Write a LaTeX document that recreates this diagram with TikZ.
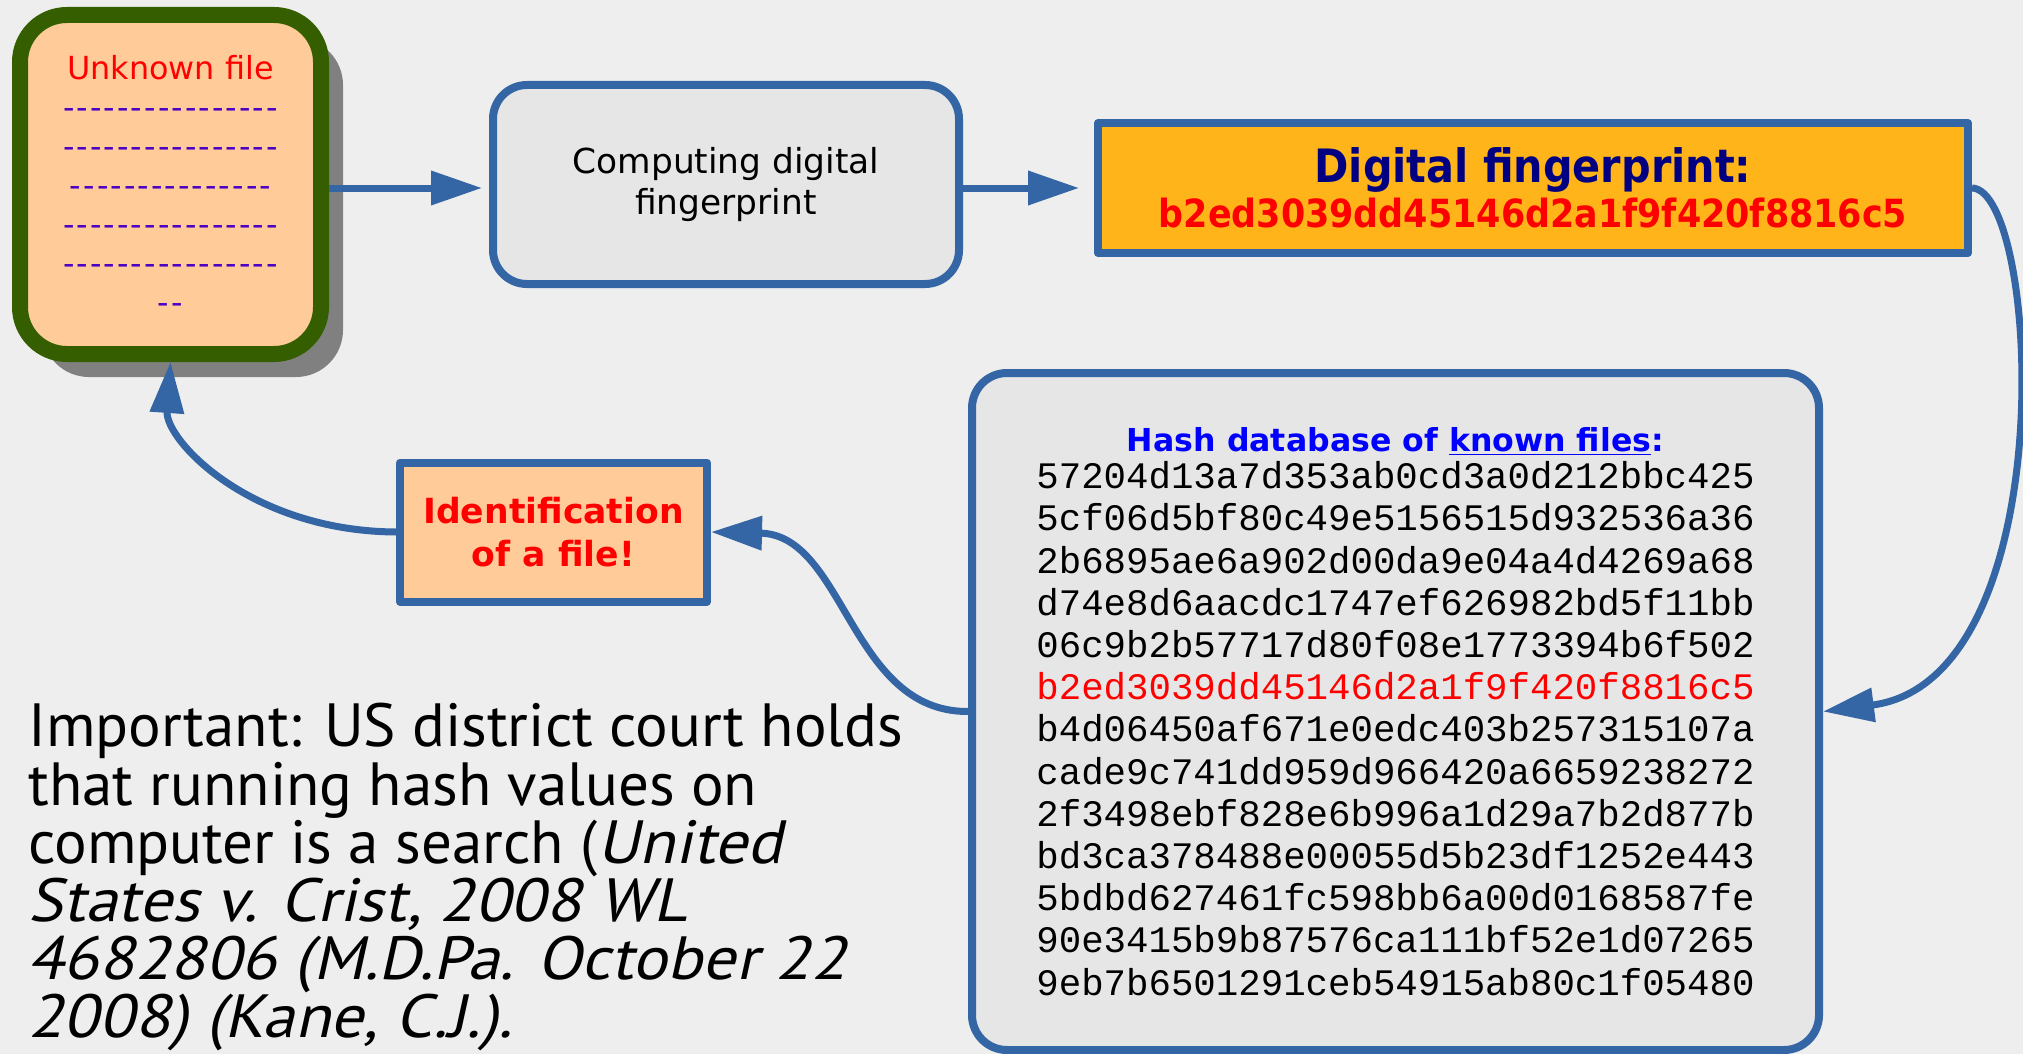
\documentclass[tikz,border=0pt]{standalone}
\usepackage{fontspec}
\setmainfont{DejaVu Sans}
\setmonofont{Liberation Mono}
\newfontfamily\condfont{DejaVu Sans Condensed}
\newfontfamily\dashfont[Ligatures=TeXOff,LetterSpace=6.5]{DejaVu Sans}
\newfontfamily\notefont{PT Sans}[ItalicFont={PT Sans}, ItalicFeatures={FakeSlant=0.22,FakeStretch=1.07}]
\usetikzlibrary{arrows.meta,shadows}

\definecolor{bgcolor}{RGB}{238,238,238}
\definecolor{peach}{RGB}{255,204,153}
\definecolor{filegreen}{RGB}{52,94,0}
\definecolor{shadowgray}{RGB}{128,128,128}
\definecolor{boxblue}{RGB}{52,101,164}
\definecolor{panelgray}{RGB}{230,230,230}
\definecolor{fporange}{RGB}{255,180,25}
\definecolor{navy}{RGB}{0,0,128}
\definecolor{hashblue}{RGB}{0,0,255}
\definecolor{dashpurple}{RGB}{76,0,196}

\newcommand{\dashrow}[1]{{\dashfont\color{dashpurple}#1}}

\begin{document}
\begin{tikzpicture}[x=0.5pt, y=-0.5pt,
  box/.style={draw=boxblue, line width=4pt, align=center, inner sep=0pt},
  conn/.style={draw=boxblue, line width=3.5pt, -{Triangle[length=25.5pt,width=16.5pt]}}]
  \fill[bgcolor] (0,0) rectangle (2023,1054);
  \useasboundingbox (0,0) rectangle (2023,1054);

  \node[draw=filegreen, line width=8pt, fill=peach, rounded corners=23.5pt,
        minimum width=150.5pt, minimum height=169.5pt, align=center, inner sep=0pt,
        drop shadow={shadow xshift=11pt, shadow yshift=-11.5pt, fill=shadowgray, opacity=1},
        font=\fontsize{15.9pt}{19.5pt}\selectfont] (unknown) at (170.5,184.5)
    {{\color{red}Unknown file}\\ \dashrow{----------------}\\ \dashrow{----------------}\\
     \dashrow{---------------}\\ \dashrow{----------------}\\ \dashrow{----------------}\\
     \dashrow{--}};

  \node[box, fill=panelgray, rounded corners=17pt, minimum width=233pt, minimum height=99.5pt,
        font=\fontsize{17.2pt}{20.6pt}\selectfont] (compute) at (726,184.5)
    {Computing digital\\fingerprint};

  \node[box, fill=fporange, line join=round, minimum width=435pt, minimum height=65pt,
        font=\condfont\bfseries\fontsize{23pt}{22.5pt}\selectfont] (fp) at (1533,188)
    {{\color{navy}Digital fingerprint:}\\
     {\fontsize{19.4pt}{22.5pt}\selectfont\color{red}b2ed3039dd45146d2a1f9f420f8816c5}};

  \node[box, fill=panelgray, rounded corners=17.5pt, minimum width=423.5pt, minimum height=338.5pt,
        font=\ttfamily\fontsize{18.7pt}{21.1pt}\selectfont] (db) at (1395.5,711.5)
    {{\rmfamily\bfseries\fontsize{15.8pt}{21.1pt}\selectfont\color{hashblue}Hash database of \underline{known files}:}\\[-2.5pt]
     57204d13a7d353ab0cd3a0d212bbc425\\
     5cf06d5bf80c49e5156515d932536a36\\
     2b6895ae6a902d00da9e04a4d4269a68\\
     d74e8d6aacdc1747ef626982bd5f11bb\\
     06c9b2b57717d80f08e1773394b6f502\\
     {\color{red}b2ed3039dd45146d2a1f9f420f8816c5}\\
     b4d06450af671e0edc403b257315107a\\
     cade9c741dd959d966420a6659238272\\
     2f3498ebf828e6b996a1d29a7b2d877b\\
     bd3ca378488e00055d5b23df1252e443\\
     5bdbd627461fc598bb6a00d0168587fe\\
     90e3415b9b87576ca111bf52e1d07265\\
     9eb7b6501291ceb54915ab80c1f05480};

  \node[box, fill=peach, line join=round, minimum width=153.5pt, minimum height=69.5pt,
        text=red, font=\bfseries\fontsize{17.3pt}{21.3pt}\selectfont] (ident) at (553.5,532)
    {Identification\\of a file!};

  \node[anchor=north west, align=left, inner sep=0pt,
        font=\notefont\fontsize{30.5pt}{29.1pt}\selectfont] (note) at (28,703)
    {Important: US district court holds\\
     that running hash values on\\
     computer is a search (\textit{United}\\
     \textit{States v. Crist, 2008 WL}\\
     \textit{4682806 (M.D.Pa. October 22}\\
     \textit{2008) (Kane, C.J.).}};

  \coordinate (row) at (0,188);
  \draw[conn, shorten >=3.5pt] (unknown.east |- row) -- (compute.west |- row);
  \draw[conn, shorten >=7.5pt] (compute.east |- row) -- (fp.west |- row);
  \draw[conn] (fp.east) .. controls (2040,190) and (2065,680) .. (db.east);
  \draw[conn] (db.west) .. controls (850,712) and (845,535) .. (ident.east);
  \draw[conn] (ident.west) .. controls (250,531) and (165,440) .. (unknown.south);
\end{tikzpicture}
\end{document}
